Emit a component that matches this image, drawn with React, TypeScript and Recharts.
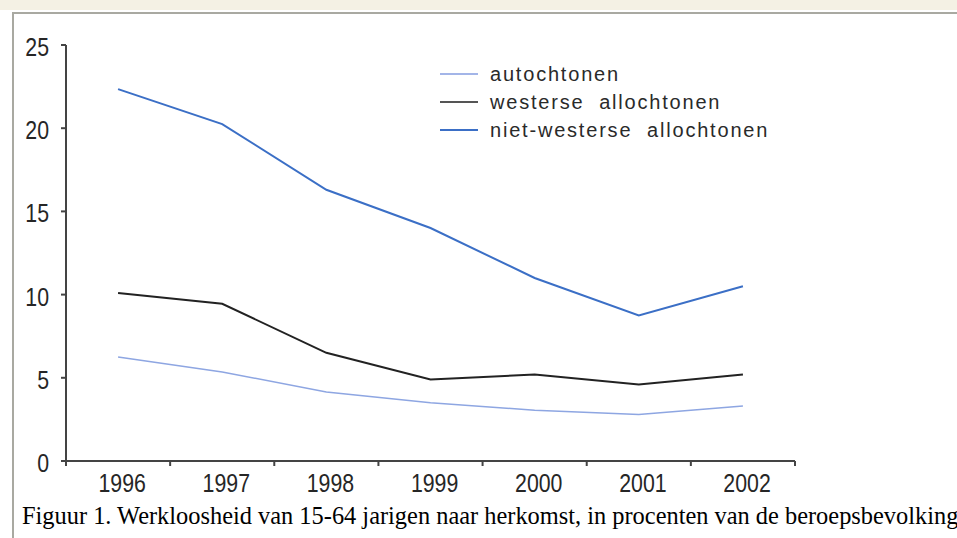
import { Line, LineChart, XAxis, YAxis } from 'recharts'

const years = [1996, 1997, 1998, 1999, 2000, 2001, 2002]
const autochtonen = [6.25, 5.35, 4.15, 3.5, 3.05, 2.8, 3.3]
const westerse = [10.1, 9.45, 6.5, 4.9, 5.2, 4.6, 5.2]
const nietWesterse = [22.35, 20.25, 16.3, 14.0, 11.0, 8.75, 10.5]
const yTicks = [0, 5, 10, 15, 20, 25]
const bandEdges = [1995.5, 1996.5, 1997.5, 1998.5, 1999.5, 2000.5, 2001.5, 2002.5]

const series = [
  { key: 'auto', name: 'autochtonen', color: '#8ea6e2', width: 1.5 },
  { key: 'west', name: 'westerse  allochtonen', color: '#222222', width: 2 },
  { key: 'niet', name: 'niet-westerse  allochtonen', color: '#3b6fc6', width: 2 },
]

const data = years.map((year, i) => ({
  year,
  auto: autochtonen[i],
  west: westerse[i],
  niet: nietWesterse[i],
}))

// condensed look of the original tick labels
function NarrowTick(props: any) {
  const { x, y, payload, textAnchor, vertical } = props
  return (
    <g transform={`translate(${x},${y}) scale(0.82,1)`}>
      <text
        x={vertical ? 0 : 5}
        y={0}
        dy={vertical ? '0.42em' : '0.71em'}
        textAnchor={textAnchor}
        fontFamily='"Liberation Sans", Arial, sans-serif'
        fontSize={26}
        fill="#262626"
      >
        {payload.value}
      </text>
    </g>
  )
}

function LegendBox() {
  return (
    <div
      style={{
        position: 'absolute',
        left: 440,
        top: 60,
        fontFamily: '"Liberation Sans", Arial, sans-serif',
        fontSize: 20,
        color: '#2a2a2a',
        letterSpacing: 1.8,
      }}
    >
      {series.map((s) => (
        <div key={s.key} style={{ display: 'flex', alignItems: 'center', height: 28, whiteSpace: 'pre' }}>
          <span
            style={{
              display: 'inline-block',
              width: 38,
              height: 2,
              background: s.key === 'west' ? '#555' : s.key === 'auto' ? '#a3b5e8' : s.color,
              marginRight: 12,
            }}
          />
          {s.name}
        </div>
      ))}
    </div>
  )
}

export default function App() {
  return (
    <div style={{ position: 'absolute', left: 0, top: 0, width: 957, height: 538, background: '#fff', overflow: 'hidden' }}>
      <div style={{ position: 'absolute', left: 0, top: 0, width: 957, height: 10, background: '#f4f1e4' }} />
      <div
        style={{
          position: 'absolute',
          left: 12,
          top: 12,
          width: 957,
          height: 538,
          borderTop: '2px solid #a9a9a1',
          borderLeft: '2px solid #a9a9a1',
        }}
      />
      <div style={{ position: 'absolute', left: 0, top: 0 }}>
        <LineChart width={957} height={538} data={data} margin={{ top: 45, right: 162, left: 16, bottom: 36 }}>
          <XAxis
            xAxisId="edges"
            dataKey="year"
            type="number"
            domain={[1995.5, 2002.5]}
            ticks={bandEdges}
            tickFormatter={() => ''}
            height={1}
            tickSize={5}
            stroke="#444"
            strokeWidth={2}
          />
          <XAxis
            xAxisId="years"
            dataKey="year"
            type="number"
            domain={[1995.5, 2002.5]}
            ticks={years}
            axisLine={false}
            tickLine={false}
            tickMargin={6}
            height={40}
            tick={<NarrowTick />}
          />
          <YAxis
            domain={[0, 25]}
            ticks={yTicks}
            width={50}
            tickSize={5}
            tickMargin={12}
            stroke="#444"
            strokeWidth={2}
            tick={<NarrowTick vertical />}
          />
          {series.map((s) => (
            <Line
              key={s.key}
              xAxisId="years"
              dataKey={s.key}
              name={s.name}
              stroke={s.color}
              strokeWidth={s.width}
              dot={false}
              type="linear"
              isAnimationActive={false}
            />
          ))}
        </LineChart>
      </div>
      <LegendBox />
      <div
        style={{
          position: 'absolute',
          left: 22,
          top: 502,
          fontFamily: '"Liberation Serif", "Times New Roman", serif',
          fontSize: 24.4,
          color: '#000',
          whiteSpace: 'nowrap',
        }}
      >
        Figuur 1. Werkloosheid van 15-64 jarigen naar herkomst, in procenten van de beroepsbevolking
      </div>
    </div>
  )
}
